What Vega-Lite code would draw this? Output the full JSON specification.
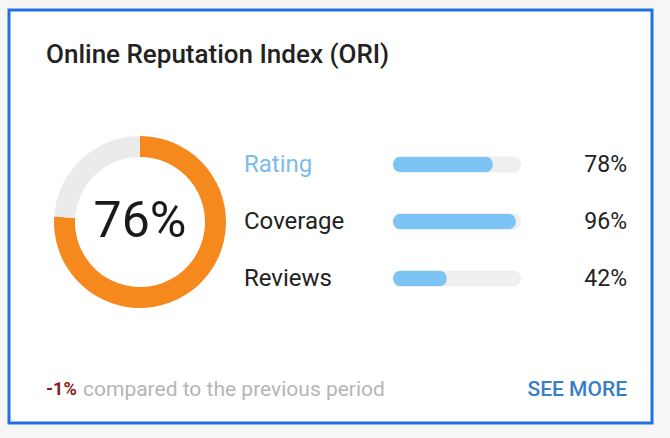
{
  "$schema": "https://vega.github.io/schema/vega-lite/v6.json",
  "width": 643,
  "height": 413,
  "padding": {"left": 9, "top": 10, "right": 18, "bottom": 15},
  "autosize": {"type": "none"},
  "background": "#f6f6f6",
  "config": {
    "view": {"stroke": "#2470e3", "strokeWidth": 3, "fill": "#ffffff"},
    "font": "Roboto",
    "text": {"font": "Roboto"}
  },
  "datasets": {
    "donut": [
      {"part": "score", "share": 0.76},
      {"part": "rest", "share": 0.24}
    ],
    "metrics": [
      {"metric": "Rating", "value": 0.78},
      {"metric": "Coverage", "value": 0.96},
      {"metric": "Reviews", "value": 0.42}
    ],
    "title": [{"text": "Online Reputation Index (ORI)"}],
    "change": [{"delta": "-1%", "note": "compared to the previous period", "link": "SEE MORE"}]
  },
  "layer": [
    {
      "data": {"name": "title"},
      "mark": {"type": "text", "align": "left", "baseline": "middle", "fontSize": 26, "fontWeight": 500, "color": "#222222"},
      "encoding": {"text": {"field": "text"}, "x": {"value": 37}, "y": {"value": 45}}
    },
    {
      "data": {"name": "donut"},
      "mark": {"type": "arc", "innerRadius": 65, "outerRadius": 86},
      "encoding": {
        "theta": {"field": "share", "type": "quantitative", "stack": true},
        "order": {"field": "share", "sort": "descending"},
        "color": {"condition": {"test": "datum.part === 'score'", "value": "#f5891e"}, "value": "#ebebeb"},
        "x": {"value": 131},
        "y": {"value": 212}
      }
    },
    {
      "data": {"name": "donut"},
      "transform": [{"filter": "datum.part === 'score'"}],
      "mark": {"type": "text", "align": "center", "baseline": "middle", "fontSize": 50, "color": "#1a1a1a"},
      "encoding": {"text": {"field": "share", "type": "quantitative", "format": ".0%"}, "x": {"value": 131}, "y": {"value": 212}}
    },
    {
      "data": {"name": "metrics"},
      "mark": {"type": "bar", "size": 16, "cornerRadius": 8, "color": "#efefef"},
      "encoding": {
        "x": {"datum": 1, "type": "quantitative", "scale": {"domain": [0, 1], "range": [384, 512]}, "axis": null},
        "y": {"field": "metric", "type": "nominal", "scale": {"domain": ["Rating", "Coverage", "Reviews"], "range": [126, 297], "paddingInner": 0, "paddingOuter": 0}, "axis": null}
      }
    },
    {
      "data": {"name": "metrics"},
      "mark": {"type": "bar", "size": 16, "cornerRadius": 8, "color": "#7cc4f6"},
      "encoding": {
        "x": {"field": "value", "type": "quantitative", "axis": null},
        "y": {"field": "metric", "type": "nominal", "axis": null}
      }
    },
    {
      "data": {"name": "metrics"},
      "mark": {"type": "text", "align": "left", "baseline": "middle", "fontSize": 24},
      "encoding": {
        "text": {"field": "metric"},
        "x": {"value": 235},
        "y": {"field": "metric", "type": "nominal", "axis": null},
        "color": {"condition": {"test": "datum.metric === 'Rating'", "value": "#7dbbea"}, "value": "#222222"}
      }
    },
    {
      "data": {"name": "metrics"},
      "mark": {"type": "text", "align": "right", "baseline": "middle", "fontSize": 23, "color": "#222222"},
      "encoding": {
        "text": {"field": "value", "type": "quantitative", "format": ".0%"},
        "x": {"value": 618},
        "y": {"field": "metric", "type": "nominal", "axis": null}
      }
    },
    {
      "data": {"name": "change"},
      "mark": {"type": "text", "align": "left", "baseline": "middle", "fontSize": 18, "fontWeight": "bold", "color": "#8b1c1c"},
      "encoding": {"text": {"field": "delta"}, "x": {"value": 37}, "y": {"value": 380}}
    },
    {
      "data": {"name": "change"},
      "mark": {"type": "text", "align": "left", "baseline": "middle", "fontSize": 21, "color": "#b5b5b5"},
      "encoding": {"text": {"field": "note"}, "x": {"value": 74}, "y": {"value": 380}}
    },
    {
      "data": {"name": "change"},
      "mark": {"type": "text", "align": "right", "baseline": "middle", "fontSize": 21, "fontWeight": 500, "color": "#3a7ec6"},
      "encoding": {"text": {"field": "link"}, "x": {"value": 618}, "y": {"value": 380}}
    }
  ]
}
